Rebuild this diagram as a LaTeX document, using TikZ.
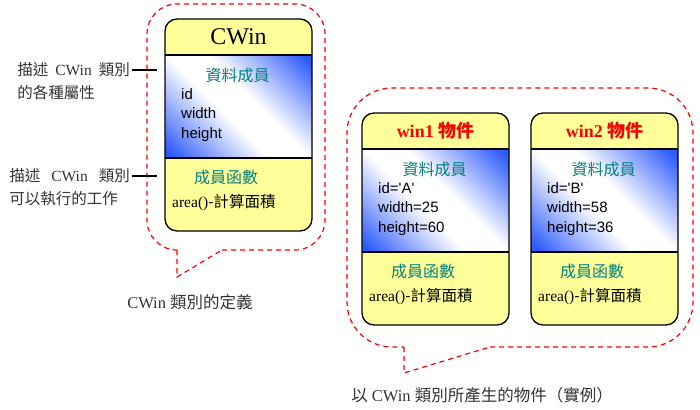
\documentclass[tikz,border=0pt]{standalone}
\usepackage{fontspec}
\setmainfont{Liberation Serif}
\setsansfont{Liberation Sans}
\newfontfamily\cjk{Noto Sans CJK TC}
\usepackage{tikz}

\definecolor{boxyellow}{RGB}{255,255,153}
\definecolor{boxblue}{RGB}{45,90,250}
\definecolor{memteal}{RGB}{0,128,128}
\definecolor{bubblered}{RGB}{255,0,0}

\pgfdeclareverticalshading{blueedge}{100bp}{color(0bp)=(boxblue); color(17bp)=(boxblue);
  color(44bp)=(white); color(56bp)=(white); color(83bp)=(boxblue); color(100bp)=(boxblue)}

\newcommand{\zh}[1]{{\cjk #1}}

\tikzset{
  boxline/.style={line width=1.3pt},
  bubble/.style={draw=bubblered, line width=1.2pt, dash pattern=on 5pt off 4pt},
  tick/.style={line width=1.1pt},
  blueband/.style={shading=blueedge, shading angle=-45},
  sect/.style={text=memteal, font=\cjk\fontsize{16}{16}\selectfont, inner sep=0pt},
  fields/.style={font=\sffamily\fontsize{15}{19.5}\selectfont, align=left, anchor=west, inner sep=0pt},
  method/.style={font=\fontsize{15.5}{16}\selectfont, anchor=west, inner sep=0pt},
  note/.style={font=\fontsize{15.5}{16}\selectfont, text=black!80, inner sep=2pt},
  captext/.style={font=\fontsize{16.5}{17}\selectfont, text=black!80}
}

% one class / object box: name, x, y, header, fields
\newcommand{\classbox}[5]{%
  \begin{scope}[shift={(#2,#3)}]
    \fill[boxyellow, rounded corners=12pt] (0,0) rectangle (147,212);
    \shade[blueband] (0,36) rectangle (147,139);
    \draw[boxline] (0,36) -- (147,36) (0,139) -- (147,139);
    \draw[boxline, rounded corners=12pt] (0,0) rectangle (147,212);
    \node (#1-head) at (73.5,18) {#4};
    \node[sect] (#1-data) at (72.5,56) {資料成員};
    \node[fields] (#1-fields) at (16,96) {#5};
    \node[sect] (#1-func) at (61,158) {成員函數};
    \node[method] (#1-area) at (7,184) {area()\zh{-計算面積}};
  \end{scope}}

\begin{document}
\begin{tikzpicture}[x=1pt,y=-1pt]
  \useasboundingbox (0,0) rectangle (700,409);

  % speech bubbles
  \draw[bubble] (177,250) -- (177,277) -- (222,250);
  \draw[bubble, rounded corners=30pt] (222,250) -- (325,250) -- (325,4) -- (147,4) -- (147,250) -- (177,250);
  \draw[bubble] (404,347) -- (404,373) -- (490,347);
  \draw[bubble, rounded corners=45pt] (490,347) -- (693,347) -- (693,88) -- (347,88) -- (347,347) -- (404,347);

  % class and objects
  \classbox{cwin}{165}{19}{\fontsize{24}{24}\selectfont CWin}{id\\width\\height}
  \classbox{winA}{362}{113}{\color{red}\bfseries\fontsize{18}{18}\selectfont win1 \zh{物件}}%
    {id=\textquotesingle A\textquotesingle\\width=25\\height=60}
  \classbox{winB}{531}{113}{\color{red}\bfseries\fontsize{18}{18}\selectfont win2 \zh{物件}}%
    {id=\textquotesingle B\textquotesingle\\width=58\\height=36}

  % notes on the left
  \node[note, anchor=east] (attrA) at (132,70) {\zh{描述}\hspace{7pt}CWin\hspace{7pt}\zh{類別}};
  \node[note, anchor=west] (attrB) at ([yshift=-23pt]attrA.west) {\zh{的各種屬性}};
  \node[note, anchor=east] (funcA) at (132,176) {\zh{描述}\hspace{11pt}CWin\hspace{11pt}\zh{類別}};
  \node[note, anchor=west] (funcB) at ([yshift=-23pt]funcA.west) {\zh{可以執行的工作}};
  \coordinate (attrTick) at (157,70);
  \coordinate (funcTick) at (157,176);
  \draw[tick] (attrA) -- (attrTick);
  \draw[tick] (funcA) -- (funcTick);

  % captions
  \node[captext] (defCap) at (190,302) {CWin \zh{類別的定義}};
  \node[captext] (objCap) at (482,395) {\zh{以} CWin \zh{類別所產生的物件（實例）}};
\end{tikzpicture}
\end{document}
